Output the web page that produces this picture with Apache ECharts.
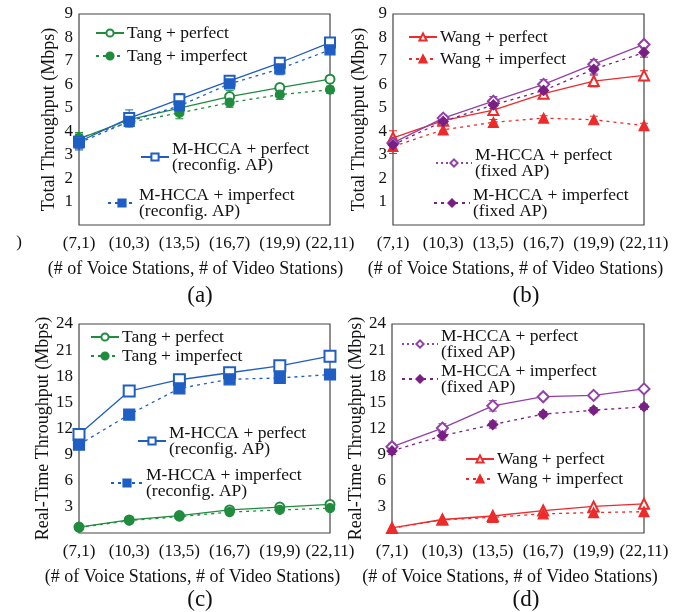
<!DOCTYPE html>
<html>
<head>
<meta charset="utf-8">
<script src="https://cdn.jsdelivr.net/npm/echarts@6/dist/echarts.min.js"></script>
<style>
  html, body { margin: 0; padding: 0; background: #fff; }
  #chart { width: 676px; height: 612px; }
</style>
</head>
<body>
<div id="chart"></div>
<script>
const categories = ["(7,1)", "(10,3)", "(13,5)", "(16,7)", "(19,9)", "(22,11)"];
const totalTicks = [0, 9, 1];     // min, max, interval
const realTimeTicks = [0, 24, 3];

// (a) 总吞吐量, Tang vs M-HCCA (reconfig. AP)
const aTangPerfect = [3.67, 4.49, 4.99, 5.48, 5.86, 6.22];
const aTangImperfect = [3.7, 4.38, 4.78, 5.22, 5.56, 5.77];
const aHccaPerfect = [3.55, 4.56, 5.36, 6.15, 6.92, 7.78];
const aHccaImperfect = [3.5, 4.42, 5.08, 6.02, 6.66, 7.47];
const aTangPerfectErr = [0.25, 0.3, 0.2, 0.25, 0.15, 0.15];
const aTangImperfectErr = [0.25, 0.2, 0.25, 0.2, 0.2, 0.15];
const aHccaPerfectErr = [0.3, 0.35, 0.25, 0.15, 0.15, 0.15];
const aHccaImperfectErr = [0.3, 0.2, 0.2, 0.15, 0.25, 0.15];

// (b) 总吞吐量, Wang vs M-HCCA (fixed AP)
const bWangPerfect = [3.72, 4.45, 4.9, 5.6, 6.14, 6.38];
const bWangImperfect = [3.35, 4.06, 4.38, 4.56, 4.49, 4.24];
const bHccaPerfect = [3.5, 4.56, 5.28, 6.0, 6.86, 7.7];
const bHccaImperfect = [3.42, 4.42, 5.12, 5.74, 6.64, 7.36];
const bWangPerfectErr = [0.3, 0.15, 0.2, 0.2, 0.25, 0.2];
const bWangImperfectErr = [0.3, 0.2, 0.12, 0.1, 0.15, 0.1];
const bHccaPerfectErr = [0.15, 0.12, 0.2, 0.2, 0.2, 0.12];
const bHccaImperfectErr = [0.15, 0.12, 0.15, 0.15, 0.2, 0.2];

// (c) 实时吞吐量, Tang vs M-HCCA (reconfig. AP)
const cTangPerfect = [0.68, 1.5, 2.0, 2.65, 2.98, 3.28];
const cTangImperfect = [0.62, 1.42, 1.88, 2.4, 2.65, 2.85];
const cHccaPerfect = [11.3, 16.3, 17.6, 18.4, 19.2, 20.3];
const cHccaImperfect = [10.15, 13.6, 16.6, 17.65, 17.8, 18.2];

// (d) 实时吞吐量, Wang vs M-HCCA (fixed AP)
const dHccaPerfect = [9.9, 12.05, 14.6, 15.65, 15.8, 16.55];
const dHccaImperfect = [9.43, 11.17, 12.45, 13.65, 14.1, 14.5];
const dWangPerfect = [0.58, 1.55, 1.95, 2.58, 3.05, 3.35];
const dWangImperfect = [0.55, 1.5, 1.8, 2.2, 2.35, 2.45];
const dHccaPerfectErr = [0.4, 0.5, 0.6, 0.3, 0.3, 0.3];
const dHccaImperfectErr = [0.4, 0.5, 0.4, 0.3, 0.3, 0.3];

const GREEN = "#1f8c3e", BLUE = "#1f5fc4", RED = "#ee2a2a", PURPLE = "#9340a8", PURPLE_D = "#7a1f84";
const FONT = "Liberation Serif";
const DOT = [3, 4];

const grids = [
  { left: 79, top: 14, width: 251, height: 211 },
  { left: 393, top: 14, width: 251, height: 211 },
  { left: 79, top: 324, width: 251, height: 209 },
  { left: 392, top: 324, width: 252, height: 209 }
];

// shift: 轴标题向左偏移的像素
function xAx(i, shift) {
  return {
    type: "category", gridIndex: i, data: categories, boundaryGap: false,
    axisLine: { show: false }, axisTick: { show: false },
    axisLabel: { interval: 0, fontFamily: FONT, fontSize: 17, color: "#111", margin: 10 },
    name: "(# of Voice Stations, # of Video Stations)", nameLocation: "middle", nameGap: 35,
    nameTextStyle: { fontFamily: FONT, fontSize: 18, color: "#111", padding: [0, shift * 2, 0, 0] }
  };
}

function yAx(i, ticks, name, gap) {
  return {
    type: "value", gridIndex: i, min: ticks[0], max: ticks[1], interval: ticks[2],
    axisLine: { show: false }, axisTick: { show: false }, splitLine: { show: false },
    axisLabel: { fontFamily: FONT, fontSize: 17, color: "#111", margin: 6,
      formatter: (v) => (v === 0 ? "" : v) },
    name, nameLocation: "middle", nameGap: gap,
    nameTextStyle: { fontFamily: FONT, fontSize: 18, color: "#111" }
  };
}

function line(name, i, data, color, symbol, dotted, size) {
  return {
    type: "line", name, xAxisIndex: i, yAxisIndex: i, data,
    symbol, symbolSize: size || 9, showAllSymbol: true,
    itemStyle: { color, borderColor: color, borderWidth: 1.2 },
    lineStyle: { color, width: 1.3, type: dotted ? DOT : "solid" },
    z: 3
  };
}

// 误差棒：中心值 ± 半宽
function errBars(i, data, err, color) {
  return {
    type: "custom", xAxisIndex: i, yAxisIndex: i, z: 2, silent: true,
    data: data.map((v, k) => [k, v - err[k], v + err[k]]),
    renderItem(params, api) {
      const lo = api.coord([api.value(0), api.value(1)]);
      const hi = api.coord([api.value(0), api.value(2)]);
      const w = 4;
      const st = { stroke: color, lineWidth: 1 };
      return {
        type: "group", children: [
          { type: "line", shape: { x1: lo[0], y1: lo[1], x2: hi[0], y2: hi[1] }, style: st },
          { type: "line", shape: { x1: lo[0] - w, y1: lo[1], x2: lo[0] + w, y2: lo[1] }, style: st },
          { type: "line", shape: { x1: hi[0] - w, y1: hi[1], x2: hi[0] + w, y2: hi[1] }, style: st }
        ]
      };
    }
  };
}

const HP_R = "M-HCCA + perfect\n(reconfig. AP)";
const HI_R = "M-HCCA + imperfect\n(reconfig. AP)";
const HP_F = "M-HCCA + perfect\n(fixed AP)";
const HI_F = "M-HCCA + imperfect\n(fixed AP)";

const series = [
  errBars(0, aTangPerfect, aTangPerfectErr, GREEN),
  errBars(0, aTangImperfect, aTangImperfectErr, GREEN),
  errBars(0, aHccaPerfect, aHccaPerfectErr, BLUE),
  errBars(0, aHccaImperfect, aHccaImperfectErr, BLUE),
  line("Tang + perfect", 0, aTangPerfect, GREEN, "emptyCircle", false),
  line("Tang + imperfect", 0, aTangImperfect, GREEN, "circle", true),
  line(HP_R, 0, aHccaPerfect, BLUE, "emptyRect", false, 10),
  line(HI_R, 0, aHccaImperfect, BLUE, "rect", true, 10),

  errBars(1, bWangPerfect, bWangPerfectErr, RED),
  errBars(1, bWangImperfect, bWangImperfectErr, RED),
  errBars(1, bHccaPerfect, bHccaPerfectErr, PURPLE),
  errBars(1, bHccaImperfect, bHccaImperfectErr, PURPLE_D),
  line("Wang + perfect", 1, bWangPerfect, RED, "emptyTriangle", false, 10),
  line("Wang + imperfect", 1, bWangImperfect, RED, "triangle", true, 10),
  line(HP_F, 1, bHccaPerfect, PURPLE, "emptyDiamond", false, 11),
  line(HI_F, 1, bHccaImperfect, PURPLE_D, "diamond", true, 10),

  line("Tang + perfect", 2, cTangPerfect, GREEN, "emptyCircle", false),
  line("Tang + imperfect", 2, cTangImperfect, GREEN, "circle", true),
  line(HP_R, 2, cHccaPerfect, BLUE, "emptyRect", false, 11),
  line(HI_R, 2, cHccaImperfect, BLUE, "rect", true, 11),

  errBars(3, dHccaPerfect, dHccaPerfectErr, PURPLE),
  errBars(3, dHccaImperfect, dHccaImperfectErr, PURPLE_D),
  line(HP_F, 3, dHccaPerfect, PURPLE, "emptyDiamond", false, 11),
  line(HI_F, 3, dHccaImperfect, PURPLE_D, "diamond", true, 10),
  line("Wang + perfect", 3, dWangPerfect, RED, "emptyTriangle", false, 10),
  line("Wang + imperfect", 3, dWangImperfect, RED, "triangle", true, 10)
];

function leg(names, left, top, gap, w) {
  return {
    data: names, left, top, orient: "vertical", itemGap: gap || 4,
    itemWidth: w || 28, itemHeight: 9, padding: 0, selectedMode: false,
    textStyle: { fontFamily: FONT, fontSize: 17.5, color: "#111", lineHeight: 16, padding: [0, 0, 0, -2] }
  };
}

// 图例里 fixed AP 的 perfect 画成点线
const fixedPerfectItem = { name: HP_F, lineStyle: { type: [2, 3] } };

const legends = [
  leg(["Tang + perfect", "Tang + imperfect"], 95, 24, 5),
  leg([HP_R], 140, 140),
  leg([HI_R], 107, 186),
  leg(["Wang + perfect", "Wang + imperfect"], 408, 28, 4),
  leg([fixedPerfectItem], 435, 146, 4, 36),
  leg([HI_F], 433, 186, 4, 36),
  leg(["Tang + perfect", "Tang + imperfect"], 90, 328, 1),
  leg([HP_R], 137, 424),
  leg([HI_R], 110, 466, 4, 32),
  leg([fixedPerfectItem], 401, 327, 4, 36),
  leg([HI_F], 401, 362, 4, 36),
  leg(["Wang + perfect", "Wang + imperfect"], 465, 450, 2)
];

function label(text, x, y, size) {
  return { type: "text", x, y, style: { text, fontFamily: FONT, fontSize: size, fill: "#111",
    textAlign: "center", textVerticalAlign: "middle" } };
}

const chart = echarts.init(document.getElementById("chart"));
chart.setOption({
  backgroundColor: "#fff",
  animation: false,
  grid: grids.map((g) => ({ ...g, show: true, borderColor: "#444", borderWidth: 1.2, containLabel: false })),
  xAxis: [xAx(0, 9), xAx(1, 3), xAx(2, 12), xAx(3, 8)],
  yAxis: [
    yAx(0, totalTicks, "Total Throughput (Mbps)", 21),
    yAx(1, totalTicks, "Total Throughput (Mbps)", 25),
    yAx(2, realTimeTicks, "Real-Time Throughput (Mbps)", 24),
    yAx(3, realTimeTicks, "Real-Time Throughput (Mbps)", 26)
  ],
  legend: legends,
  series,
  graphic: [
    label("(a)", 200, 296, 23),
    label("(b)", 526, 296, 23),
    label("(c)", 200, 600, 23),
    label("(d)", 526, 600, 23),
    label(")", 19, 243, 17)
  ]
});
</script>
</body>
</html>
